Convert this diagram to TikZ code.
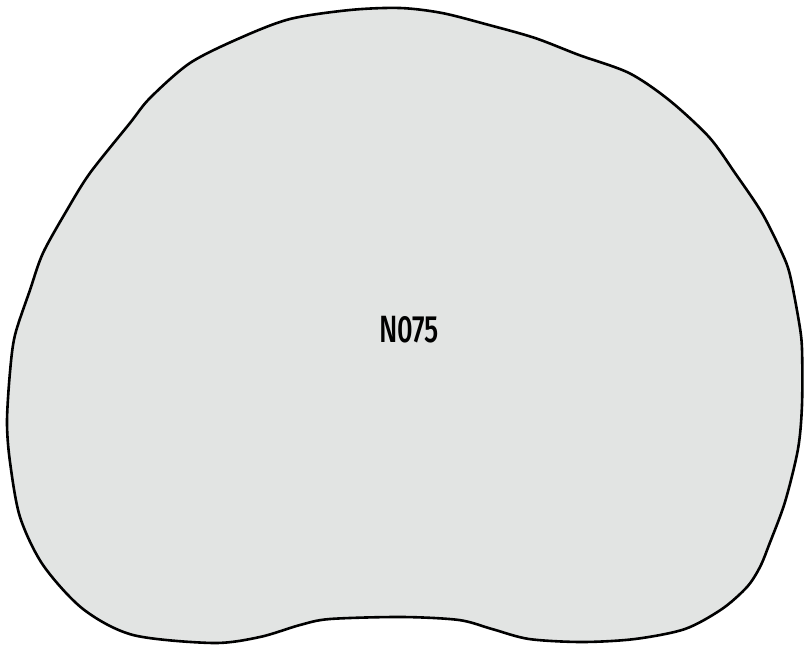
\documentclass[tikz,border=0pt]{standalone}
\usepackage{fontspec}
\setmainfont{Fira Sans}[FakeStretch=0.72]
\newfontfamily\lblfont{Fira Sans Medium}[FakeStretch=0.72]
\definecolor{blobfill}{RGB}{226,228,227}
\tikzset{
  blob/.style={draw=black, line width=2.6pt, fill=blobfill, line join=round},
  lbl/.style={font=\lblfont\fontsize{38}{40}\selectfont, inner sep=0pt, anchor=center}
}
\begin{document}
\begin{tikzpicture}[x=1pt,y=-1pt]
\useasboundingbox (0,0) rectangle (804,645);
\draw[blob] plot[smooth cycle, tension=0.5] coordinates {
(400,8) (442,13) (489,25) (535,38) (579,55) (629,73) (669,100) (709,137) (735,173) (762,213) (782,253) (790,275) (799,322) (802,349) (802,405) (798,449) (785,502) (769,545) (760,567) (747,587) (722,609) (685,629) (635,639) (582,642) (529,639) (492,629) (459,620) (402,617) (330,619) (300,625) (260,637) (213,643) (133,635) (83,609) (43,565) (20,517) (10,462) (7,422) (10,372) (15,335) (30,290) (43,253) (67,210) (90,173) (130,123) (150,98) (190,63) (240,38) (290,19) (350,10)
};
\node[lbl] (n075) at (409,330) {N075};
\end{tikzpicture}
\end{document}
